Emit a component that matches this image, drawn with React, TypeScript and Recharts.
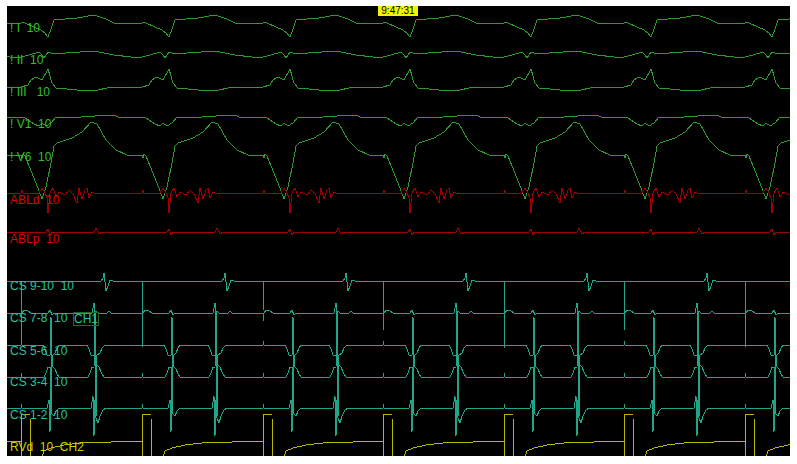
import { LineChart, Line, XAxis, YAxis } from 'recharts';

// pacing stimulus times along the sweep (first one is the cycle running in from the left edge)
const stimTimes = [-100, 21, 142, 263, 383, 504, 624, 745];
// size of the stimulus artefact on CS 9-10, one per stimulus
const cs910Artefact = [-60, -61, -66, -29, -49, -67, -49, -66];

// one paced cycle per channel: [time after stimulus, amplitude]
const leadI = [[0, 0], [2, 1], [4, 0], [13, -4], [20, -7], [24, -10], [27, -14], [30, -6], [33, 3], [56, 5], [73, 8], [85, 4], [93, 0], [118, 0]];
const leadII = [[0, -2], [4, -1], [15, 2], [18, 3], [21, 0], [23, -3], [27, 3], [30, 2], [45, 2], [73, 4], [93, 0], [110, -2], [118, -2]];
const leadIII = [[0, 2], [7, 4], [10, 9], [15, 12], [21, 9], [27, 20], [31, 6], [35, 1], [56, -1], [73, -2], [90, 2], [118, 2]];
const leadV1 = [[0, 0], [4, -1], [10, -5], [13, -7], [18, -9], [21, -6], [25, -9], [30, -6], [35, 0], [60, 0], [88, 2], [93, 2], [97, 0], [118, 0]];
const leadV6 = [[0, 0], [1, -3], [2, 1], [4, -1], [6, -6], [15, -28], [21, -44], [25, -32], [30, -8], [33, 9], [36, 12], [51, 17], [61, 23], [70, 33], [76, 31], [85, 15], [95, 5], [106, 0], [118, 0]];
const ablDist = [[0, 0], [1, 3], [2, 0], [18, 0], [21, 5], [24, 0], [26, -5], [27, -20], [29, 0], [32, 5], [35, -4], [38, 1], [44, -2], [48, 3], [52, -1], [56, -10], [58, 5], [61, -6], [64, 3], [66, 5], [68, -5], [71, 1], [75, -1], [80, 0], [118, 0]];
const ablProx = [[0, 0], [25, 0], [27, 3], [29, -3], [31, 0], [73, 0], [75, 4], [78, -2], [81, 0], [118, 0]];
const cs910 = [[0, 0], [1, 0], [80, 0], [82, 3], [83, 8], [85, -10], [87, -5], [89, 1], [92, 0], [118, 0]];
const cs78 = [[0, 0], [0.5, -8], [1, 0], [3, 3], [7, 2], [10, 0], [27, 0], [29, 3], [31, -2], [33, 0], [71, 0], [73, 10], [74, -6], [75, 2], [77, 0], [86, 0], [88, 2], [90, 0], [118, 0]];
const cs56 = [[0, 0], [0.5, 4], [1, 0], [22, 0], [24, -4], [26, -10], [29, -10], [30, 28], [31, -16], [32, -10], [34, -8], [36, -3], [38, 0], [66, 0], [68, -4], [70, -10], [73, -10], [74, 30], [75, -32], [76, -10], [79, -8], [81, -3], [84, 0], [118, 0]];
const cs34 = [[0, 0], [0.5, 4], [1, 0], [23, 0], [25, 4], [27, 10], [29, 10], [30, -22], [31, 18], [32, 10], [34, 8], [36, 3], [38, 0], [67, 0], [69, 4], [71, 10], [73, 10], [74, 35], [75, -40], [76, 12], [78, 10], [80, 5], [83, 0], [118, 0]];
const cs12 = [[0, 0], [0.5, 4], [1, 0], [26, 0], [28, 8], [29, -24], [30, 10], [31, -6], [33, -8], [35, -3], [38, 0], [70, 0], [72, 12], [73, -28], [74, 8], [75, -10], [77, -15], [79, -8], [82, -2], [85, 0], [118, 0]];
const rvDist = [[0, 0], [0.2, -40], [0.4, 27], [9, 27], [9.2, -40], [20, -40], [21, -16], [23, -10], [30, -7], [43, -4], [60, -2], [90, -1], [118, 0]];

const sweep = (cycle: number[][], artefact?: number[]) =>
  stimTimes.flatMap((s, i) => {
    const pts = artefact ? [cycle[0], [0.5, artefact[i]], ...cycle.slice(1)] : cycle;
    return pts.map(([t, v]) => ({ t: s + t, v }));
  });

const ECG = '#2e9a2e';
const RED = '#a00000';
const CS = '#1fa587';
const RV = '#b8b800';

const channels = [
  { id: 'I', label: '! I  10', color: ECG, text: '#2fc02f', base: 23, labelY: 28, data: sweep(leadI) },
  { id: 'II', label: '! II  10', color: ECG, text: '#2fc02f', base: 55, labelY: 60, data: sweep(leadII) },
  { id: 'III', label: '! III   10', color: ECG, text: '#2fc02f', base: 89, labelY: 92, data: sweep(leadIII) },
  { id: 'V1', label: '! V1  10', color: ECG, text: '#2fc02f', base: 117, labelY: 124, data: sweep(leadV1) },
  { id: 'V6', label: '! V6  10', color: ECG, text: '#2fc02f', base: 155, labelY: 157, data: sweep(leadV6) },
  { id: 'ABLd', label: 'ABLd  10', color: RED, text: '#e00000', base: 193, labelY: 200, data: sweep(ablDist) },
  { id: 'ABLp', label: 'ABLp  10', color: RED, text: '#e00000', base: 232, labelY: 239, data: sweep(ablProx) },
  { id: 'CS910', label: 'CS 9-10  10', color: CS, text: '#22c4a0', base: 281, labelY: 286, data: sweep(cs910, cs910Artefact) },
  { id: 'CS78', label: 'CS 7-8  10', color: CS, text: '#22c4a0', base: 313, labelY: 318, data: sweep(cs78) },
  { id: 'CS56', label: 'CS 5-6  10', color: CS, text: '#22c4a0', base: 345, labelY: 351, data: sweep(cs56) },
  { id: 'CS34', label: 'CS 3-4  10', color: CS, text: '#22c4a0', base: 377, labelY: 382, data: sweep(cs34) },
  { id: 'CS12', label: 'CS 1-2  10', color: CS, text: '#22c4a0', base: 408, labelY: 415, data: sweep(cs12) },
  { id: 'RVd', label: 'RVd  10  CH2', color: RV, text: '#d0d000', base: 441, labelY: 447, data: sweep(rvDist) },
];

const TOP = 6;
const BOTTOM = 456;
const LEFT = 7;
const RIGHT = 790;

export default function App() {
  return (
    <div style={{ position: 'absolute', left: 0, top: 0, width: 797, height: 464, background: '#fff' }}>
      <style>{'.recharts-line-curve{shape-rendering:crispEdges}'}</style>
      <div style={{ position: 'absolute', left: LEFT, top: TOP, width: RIGHT - LEFT, height: BOTTOM - TOP, background: '#000' }}>
        <LineChart width={RIGHT - LEFT} height={BOTTOM - TOP} margin={{ top: 0, right: 0, bottom: 0, left: 0 }}>
          <XAxis type="number" dataKey="t" domain={[LEFT, RIGHT]} allowDataOverflow hide />
          {channels.map((c) => (
            <YAxis
              key={c.id}
              yAxisId={c.id}
              type="number"
              domain={[c.base - BOTTOM, c.base - TOP]}
              allowDataOverflow
              hide
            />
          ))}
          {channels.map((c) => (
            <Line
              key={c.id}
              yAxisId={c.id}
              data={c.data}
              dataKey="v"
              type="linear"
              stroke={c.color}
              strokeWidth={1}
              dot={false}
              activeDot={false}
              isAnimationActive={false}
            />
          ))}
        </LineChart>
      </div>
      {channels.map((c) => (
        <div
          key={c.id}
          style={{
            position: 'absolute',
            left: 10,
            top: c.labelY - 7,
            font: '12px "Liberation Sans", Arial, sans-serif',
            lineHeight: '14px',
            color: c.text,
            whiteSpace: 'pre',
          }}
        >
          {c.label}
        </div>
      ))}
      <div
        style={{
          position: 'absolute',
          left: 73,
          top: 312,
          width: 24,
          height: 12,
          border: '1px solid #1d6b1d',
          font: '12px "Liberation Sans", Arial, sans-serif',
          lineHeight: '12px',
          color: '#22c4a0',
          textAlign: 'center',
        }}
      >
        CH1
      </div>
      <div
        style={{
          position: 'absolute',
          left: 378,
          top: TOP,
          width: 40,
          height: 10,
          background: '#f4f400',
          color: '#000',
          font: '10px "Liberation Sans", Arial, sans-serif',
          lineHeight: '10px',
          textAlign: 'center',
        }}
      >
        9:47:31
      </div>
    </div>
  );
}
